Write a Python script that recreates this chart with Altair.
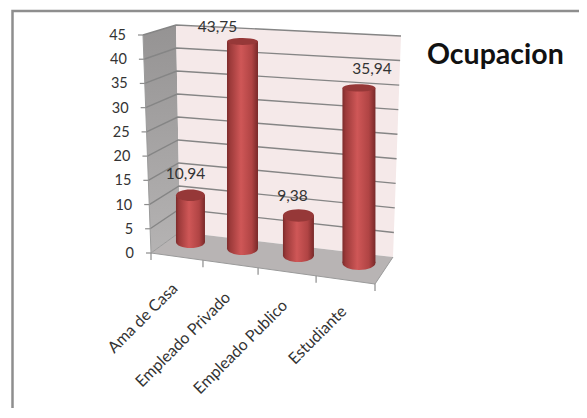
import altair as alt
import numpy as np
import pandas as pd

categories = ["Ama de Casa", "Empleado Privado", "Empleado Publico", "Estudiante"]
values = [10.94, 43.75, 9.38, 35.94]
value_labels = ["10,94", "43,75", "9,38", "35,94"]
y_ticks = [0, 5, 10, 15, 20, 25, 30, 35, 40, 45]
title_text = "Ocupacion"

# --- layout of the pseudo-3D box (page pixels) ---
W, H = 571, 400
AX_T, AX_B = (143, 35), (151, 253)       # front axis edge
BK_TL, BK_BL = (176, 25), (180, 232)     # back wall, left edge
BK_TR, BK_BR = (401, 36), (393, 257)     # back wall, right edge
FR_R = (375, 284)                        # floor, front right
tick_frac = [0, 0.232, 0.478, 0.737, 1]
cyl_frac = [0.0951, 0.335, 0.593, 0.872]
cyl_depth = 0.65
cyl_r = [14.5, 15.5, 15.5, 16.5]
cyl_k = [4.26, 4.73, 4.26, 4.87]         # projected px per unit
cyl_top_ratio = [0.40, 0.22, 0.40, 0.22]
cyl_bot_ratio = 0.42
lab_dx = [-5, -25, -6, 13]
lab_dy = [-21, -14, -19, -19]
cat_anchor = [(175, 286), (228, 295), (285, 303), (344, 309)]

xs = alt.Scale(domain=[8, 8 + W], range=[0, W], nice=False, zero=False)
ys = alt.Scale(domain=[8, 8 + H], range=[0, H], nice=False, zero=False)
X = lambda f="x": alt.X(f"{f}:Q", scale=xs, axis=None)
Y = lambda f="y": alt.Y(f"{f}:Q", scale=ys, axis=None)


def lerp(a, b, t):
    return (a[0] + (b[0] - a[0]) * t, a[1] + (b[1] - a[1]) * t)


def ellipse(r):
    k = 0.5523
    return (f"M-1,0C-1,{-k*r:.4f} {-k},{-r} 0,{-r}C{k},{-r} 1,{-k*r:.4f} 1,0"
            f"C1,{k*r:.4f} {k},{r} 0,{r}C{-k},{r} -1,{k*r:.4f} -1,0Z")


def polygon(a, b, c, d):
    """Area rows for a convex quad given clockwise from top left."""
    pts = [a, b, c, d]
    px = sorted(p[0] for p in pts)
    left = min(pts, key=lambda p: p[0])
    right = max(pts, key=lambda p: p[0])
    i, j = pts.index(left), pts.index(right)
    chain1, chain2 = [], []
    k = i
    while True:
        chain1.append(pts[k])
        if k == j:
            break
        k = (k + 1) % 4
    k = i
    while True:
        chain2.append(pts[k])
        if k == j:
            break
        k = (k - 1) % 4
    y1 = np.interp(px, [p[0] for p in chain1], [p[1] for p in chain1])
    y2 = np.interp(px, [p[0] for p in chain2], [p[1] for p in chain2])
    return pd.DataFrame({"x": px, "y": y1, "y2": y2})


def area(df, fill):
    return alt.Chart(df).mark_area(color=fill, opacity=1, interpolate="linear").encode(
        x=X(), y=Y(), y2=alt.Y2("y2:Q"))


def lines(rows, color, width):
    df = pd.DataFrame(rows, columns=["id", "x", "y"])
    return alt.Chart(df).mark_line(color=color, strokeWidth=width).encode(
        x=X(), y=Y(), detail="id:N", order="ord:Q"
    ).transform_window(ord="row_number()", groupby=["id"])


def grad(stops, horizontal=True):
    return alt.Gradient(
        gradient="linear",
        stops=[alt.GradientStop(offset=o, color=c) for o, c in stops],
        x1=0, x2=1 if horizontal else 0, y1=0, y2=0 if horizontal else 1)


# --- walls, floor ---
left_wall = area(polygon(AX_T, BK_TL, BK_BL, AX_B),
                 grad([(0, "#959393"), (1, "#b5b3b3")], False))
back_wall = area(polygon(BK_TL, BK_TR, BK_BR, BK_BL), "#f5e9e9")
floor = area(polygon(AX_B, BK_BL, BK_BR, FR_R), "#b8b4b4")

grid_rows, ytick_rows = [], []
ylab = []
for v in y_ticks:
    t = 1 - v / 45
    f = lerp(AX_T, AX_B, t)
    bl = lerp(BK_TL, BK_BL, t)
    br = lerp(BK_TR, BK_BR, t)
    if v > 0:
        grid_rows += [(v, *f), (v, *bl), (v, *br)]
    ytick_rows += [(v, f[0] - 5, f[1]), (v, *f)]
    ylab.append({"x": f[0] - 17, "y": f[1] + 1, "t": str(v)})
grid = lines(grid_rows, "#858585", 1.4)
y_tick_marks = lines(ytick_rows, "#8c8c8c", 1.2)
y_labels = alt.Chart(pd.DataFrame(ylab)).mark_text(
    align="right", baseline="middle", font="Lato", fontSize=14.5, color="#333333"
).encode(x=X(), y=Y(), text="t:N")

axis_edges = lines([(0, *AX_T), (0, *AX_B), (0, *FR_R), (1, *AX_B), (1, *BK_BL),
                    (2, *FR_R), (2, *BK_BR)], "#9a9a9a", 1)
xtick_rows = []
for i, f in enumerate(tick_frac):
    p = lerp(AX_B, FR_R, f)
    xtick_rows += [(i, *p), (i, p[0], p[1] + 7)]
x_tick_marks = lines(xtick_rows, "#8c8c8c", 1.2)

# --- cylinders ---
rows = []
for i, c in enumerate(categories):
    front = lerp(AX_B, FR_R, cyl_frac[i])
    back = lerp(BK_BL, BK_BR, cyl_frac[i])
    cx, by = lerp(front, back, cyl_depth)
    ty = by - cyl_k[i] * values[i]
    rows.append({
        "cat": c, "x": cx - cyl_r[i], "x2": cx + cyl_r[i], "cx": cx,
        "by": by, "ty": ty, "s": (2 * cyl_r[i]) ** 2,
        "top_shape": ellipse(cyl_top_ratio[i]),
        "bot_shape": ellipse(cyl_bot_ratio),
        "lab": value_labels[i], "lx": cx + lab_dx[i], "ly": ty + lab_dy[i],
    })
cyl = pd.DataFrame(rows)
body_grad = grad([(0, "#7c2b2b"), (0.1, "#9c3a3a"), (0.45, "#cf5757"),
                  (0.8, "#b04444"), (0.93, "#8c3232"), (1, "#772929")])
bodies = alt.Chart(cyl).mark_rect(color=body_grad, opacity=1).encode(
    x=X(), x2=alt.X2("x2:Q"), y=Y("ty"), y2=alt.Y2("by:Q"))
bases = alt.Chart(cyl).mark_point(filled=True, fill=body_grad, opacity=1, strokeWidth=0).encode(
    x=X("cx"), y=Y("by"),
    size=alt.Size("s:Q", scale=None, legend=None),
    shape=alt.Shape("bot_shape:N", scale=None, legend=None))
tops = alt.Chart(cyl).mark_point(filled=True, fill="#963838", opacity=1, strokeWidth=0).encode(
    x=X("cx"), y=Y("ty"),
    size=alt.Size("s:Q", scale=None, legend=None),
    shape=alt.Shape("top_shape:N", scale=None, legend=None))
val_labels = alt.Chart(cyl).mark_text(
    align="center", baseline="middle", font="Lato", fontSize=15.5, color="#333333"
).encode(x=X("lx"), y=Y("ly"), text="lab:N")

# --- category labels ---
cat_df = pd.DataFrame({"x": [a[0] for a in cat_anchor], "y": [a[1] for a in cat_anchor],
                       "t": categories})
cat_labels = alt.Chart(cat_df).mark_text(
    align="right", baseline="middle", angle=315, font="Lato", fontSize=16, color="#333333"
).encode(x=X(), y=Y(), text="t:N")

title = alt.Chart(pd.DataFrame({"x": [427], "y": [55], "t": [title_text]})).mark_text(
    align="left", baseline="middle", font="Lato", fontSize=28.5, fontWeight="bold", color="#111111"
).encode(x=X(), y=Y(), text="t:N")

# --- picture frame (runs to the edges of the drawable page area) ---
frame = lines([(0, 12.5, 408), (0, 12.5, 11), (0, 579, 11)], "#8e8e8e", 2.5)

chart = alt.layer(
    frame, left_wall, back_wall, floor, grid, axis_edges, y_tick_marks, x_tick_marks,
    bases, bodies, tops, val_labels, y_labels, cat_labels, title
).properties(
    width=W, height=H,
    padding=0,
    autosize=alt.AutoSizeParams(type="none"),
    background="white"
).configure_view(stroke=None)

chart.save("out.html", embed_options={"renderer": "svg", "actions": False})
